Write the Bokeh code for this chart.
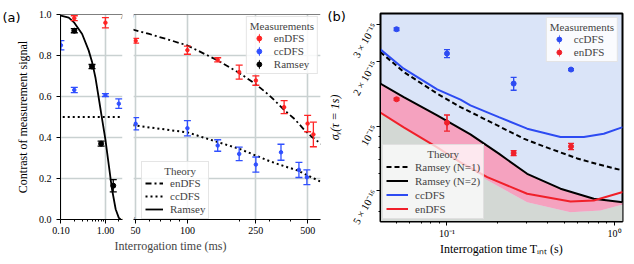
import math
from bokeh.plotting import figure
from bokeh.layouts import row, column
from bokeh.models import (Range1d, FixedTicker, PrintfTickFormatter, Legend,
                          LegendItem, Span, Label, Grid)
from bokeh.embed import file_html
from bokeh.resources import INLINE

SERIF = "Liberation Serif"
SANS = "DejaVu Sans"
RED = "#ff2424"
BLUE = "#3050ff"
BRED = "#f0202a"
BBLUE = "#2d4bf2"
GRID = "#c9d1d1"

# ---------------- panel (a) data ----------------
# theory curves, short interrogation times
ramsey_th_t = [0.1, 0.15, 0.2, 0.3, 0.42, 0.5, 0.6, 0.7, 0.8, 1.0, 1.2, 1.4, 1.7, 2.0, 2.2]
ramsey_th_c = [0.995, 0.985, 0.96, 0.905, 0.825, 0.77, 0.69, 0.6, 0.52, 0.39, 0.26, 0.15, 0.05, 0.008, 0.0]
ccdfs_th_short_t = [0.11, 2.2]
ccdfs_th_short_c = [0.5, 0.5]

# measurements, short interrogation times
en_short_t = [0.2, 1.0]
en_short_c = [0.982, 0.96]
en_short_e = [0.012, 0.025]
cc_short_t = [0.1, 0.2, 1.0, 2.0]
cc_short_c = [0.85, 0.632, 0.607, 0.565]
cc_short_e = [0.023, 0.013, 0.007, 0.023]
ram_short_t = [0.2, 0.5, 0.8, 1.5]
ram_short_c = [0.921, 0.746, 0.37, 0.165]
ram_short_e = [0.01, 0.01, 0.012, 0.03]

# theory curves, long interrogation times (ms)
endfs_th_t = [48, 60, 80, 100, 150, 200, 250, 300, 365, 420, 475, 525, 600]
endfs_th_c = [0.927, 0.905, 0.874, 0.849, 0.776, 0.715, 0.66, 0.605, 0.535, 0.49, 0.44, 0.405, 0.368]
ccdfs_th_t = [48, 100, 150, 200, 250, 300, 350, 435, 500, 600]
ccdfs_th_c = [0.46, 0.425, 0.378, 0.345, 0.312, 0.285, 0.265, 0.24, 0.215, 0.183]

# measurements, long interrogation times (ms)
en_long_t = [50, 100, 150, 200, 250, 365, 500, 540]
en_long_c = [0.872, 0.826, 0.779, 0.719, 0.678, 0.548, 0.468, 0.415]
en_long_e = [0.012, 0.02, 0.01, 0.034, 0.023, 0.032, 0.04, 0.06]
cc_long_t = [50, 100, 150, 200, 250, 350, 445, 495]
cc_long_c = [0.467, 0.445, 0.361, 0.32, 0.268, 0.328, 0.242, 0.206]
cc_long_e = [0.03, 0.037, 0.028, 0.033, 0.037, 0.039, 0.037, 0.036]

a_y_ticks = [0.0, 0.2, 0.4, 0.6, 0.8, 1.0]
a_short_ticks = [0.1, 1.0]
a_short_minor = [0.2, 0.3, 0.4, 0.5, 0.6, 0.7, 0.8, 0.9, 2.0]
a_long_ticks = [50, 100, 250, 500]
a_long_minor = [60, 70, 80, 90, 200, 300, 400]

# ---------------- panel (b) data (sigma in units of 1e-15) ----------------
ccdfs_b_t = [0.04, 0.0552, 0.0874, 0.1204, 0.138, 0.204, 0.301, 0.476, 0.656, 0.863, 1.12]
ccdfs_b_s = [2.29, 1.86, 1.49, 1.334, 1.254, 1.105, 0.975, 0.891, 0.891, 0.924, 0.992]
ram1_b_t = [0.04, 0.0552, 0.0874, 0.1204, 0.19, 0.287, 0.378, 0.599, 0.8, 1.12]
ram1_b_s = [2.228, 1.796, 1.423, 1.231, 1.03, 0.876, 0.806, 0.708, 0.664, 0.622]
ram2_b_t = [0.04, 0.0552, 0.0874, 0.138, 0.204, 0.301, 0.476, 0.752, 1.12]
ram2_b_s = [1.585, 1.371, 1.126, 0.917, 0.745, 0.60, 0.511, 0.459, 0.442]
endfs_b_t = [0.04, 0.0552, 0.0874, 0.1204, 0.174, 0.301, 0.546, 0.752, 1.12]
endfs_b_s = [1.159, 0.989, 0.797, 0.678, 0.579, 0.484, 0.445, 0.45, 0.493]
lower_b_t = [0.04, 0.0874, 0.174, 0.301, 0.546, 0.825, 1.12]
lower_b_s = [1.159, 0.797, 0.559, 0.442, 0.397, 0.404, 0.431]

cc_b_t = [0.05, 0.1, 0.25, 0.55]
cc_b_s = [2.845, 2.19, 1.585, 1.843]
cc_b_e = [0.04, 0.095, 0.11, 0.02]
en_b_t = [0.05, 0.1, 0.25, 0.55]
en_b_s = [1.338, 1.04, 0.75, 0.806]
en_b_e = [0.015, 0.09, 0.02, 0.027]

b_y_ticks = [5e-16, 1e-15, 2e-15, 3e-15]
b_y_minor = [4e-16, 6e-16, 7e-16, 8e-16, 9e-16]
b_y_labels = {5e-16: "5 × 10⁻¹⁶", 1e-15: "10⁻¹⁵", 2e-15: "2 × 10⁻¹⁵", 3e-15: "3 × 10⁻¹⁵"}
b_x_ticks = [0.1, 1.0]
b_x_minor = [0.05, 0.06, 0.07, 0.08, 0.09, 0.2, 0.3, 0.4, 0.5, 0.6, 0.7, 0.8, 0.9]
b_x_labels = {0.1: "10⁻¹", 1.0: "10⁰"}

UNIT = 1e-15
def sc(v):
    return [x * UNIT for x in v]

A_SHORT = (0.098, 2.42)
A_LONG = (48.6, 594.0)
B_X = (0.0401, 1.116)
B_Y = (0.359e-15, 3.37e-15)


def style_axis(ax, size="10px"):
    ax.axis_line_color = "black"
    ax.axis_line_width = 1
    ax.major_tick_line_color = "black"
    ax.minor_tick_line_color = "black"
    ax.major_tick_in = 0
    ax.major_tick_out = 4
    ax.minor_tick_in = 0
    ax.minor_tick_out = 2
    ax.major_label_text_font = SERIF
    ax.major_label_text_font_size = size
    ax.major_label_text_color = "black"
    ax.axis_label_text_font = SERIF
    ax.axis_label_text_font_style = "normal"
    ax.axis_label_text_color = "black"


def errorbars(p, xs, ys, es, color, cap, lw=1.3, dot=3.5):
    lo = [y - e for y, e in zip(ys, es)]
    hi = [y + e for y, e in zip(ys, es)]
    p.segment(x0=xs, y0=lo, x1=xs, y1=hi, line_color=color, line_width=lw)
    p.scatter(x=list(xs) + list(xs), y=lo + hi, marker="dash", size=cap,
              line_color=color, line_width=lw)
    return p.scatter(x=xs, y=ys, marker="circle", size=dot, fill_color=color,
                     line_color=color)


def style_legend(lg, fs, gw, gh, standoff, pad, spacing):
    lg.label_text_font = SERIF
    lg.label_text_font_size = fs
    lg.title_text_font = SERIF
    lg.title_text_font_size = fs
    lg.title_text_font_style = "normal"
    lg.title_standoff = 0
    lg.glyph_width = gw
    lg.glyph_height = gh
    lg.label_height = gh
    lg.label_standoff = standoff
    lg.padding = pad
    lg.spacing = spacing
    lg.border_line_color = "#cccccc"
    lg.border_line_width = 1
    lg.background_fill_color = "white"
    lg.background_fill_alpha = 0.85


def panel_tag(p, text, offset):
    p.title.text = text
    p.title.align = "left"
    p.title.offset = offset
    p.title.standoff = -20
    p.title.vertical_align = "bottom"
    p.title.text_font = SANS
    p.title.text_font_size = "13px"
    p.title.text_font_style = "normal"
    p.title.text_color = "black"


# ================= panel (a), short times =================
a1 = figure(width=127, height=240, x_axis_type="log",
            x_range=Range1d(*A_SHORT), y_range=Range1d(0, 1),
            output_backend="svg", toolbar_location=None,
            min_border_left=60, min_border_right=5, min_border_top=14,
            min_border_bottom=21)
a1.outline_line_color = None
style_axis(a1.xaxis[0])
style_axis(a1.yaxis[0])
a1.xaxis.ticker = FixedTicker(ticks=a_short_ticks, minor_ticks=a_short_minor)
a1.xaxis.formatter = PrintfTickFormatter(format="%.2f")
a1.xaxis.major_label_standoff = 3
a1.yaxis.ticker = FixedTicker(ticks=a_y_ticks, minor_ticks=[])
a1.yaxis.formatter = PrintfTickFormatter(format="%.1f")
a1.yaxis.axis_label = "Contrast of measurement signal"
a1.yaxis.axis_label_text_font_size = "12px"
a1.yaxis.axis_label_standoff = 6
a1.grid.grid_line_color = GRID
a1.grid.grid_line_width = 1.6
a1.add_layout(Span(location=1.0, dimension="width", line_color="black", line_width=1))
panel_tag(a1, "(a)", -58)

a1.line(ccdfs_th_short_t, ccdfs_th_short_c, line_color="black", line_width=2,
        line_dash="2 3")
a1.line(ramsey_th_t, ramsey_th_c, line_color="black", line_width=1.8)
errorbars(a1, en_short_t, en_short_c, en_short_e, RED, 7)
errorbars(a1, cc_short_t, cc_short_c, cc_short_e, BLUE, 7)
errorbars(a1, ram_short_t, ram_short_c, ram_short_e, "black", 7, dot=5)

for yy in (0.0, 1.0):
    a1.add_layout(Label(x=A_SHORT[1], y=yy, text="/", text_font=SERIF,
                        text_font_size="11px", text_align="center",
                        text_baseline="middle"))

# ================= panel (a), long times =================
a2 = figure(width=195, height=240, x_axis_type="log",
            x_range=Range1d(*A_LONG), y_range=Range1d(0, 1),
            y_axis_location=None,
            output_backend="svg", toolbar_location=None,
            min_border_left=6, min_border_right=2, min_border_top=14,
            min_border_bottom=21)
a2.outline_line_color = None
style_axis(a2.xaxis[0])
a2.xaxis.ticker = FixedTicker(ticks=a_long_ticks, minor_ticks=a_long_minor)
a2.xaxis.formatter = PrintfTickFormatter(format="%d")
a2.xaxis.major_label_standoff = 3
a2.xgrid.grid_line_color = GRID
a2.xgrid.grid_line_width = 1.6
a2.add_layout(Grid(dimension=1, ticker=FixedTicker(ticks=a_y_ticks),
                   grid_line_color=GRID, grid_line_width=1.6))
a2.add_layout(Span(location=1.0, dimension="width", line_color="black", line_width=1))

th_en = a2.line(endfs_th_t, endfs_th_c, line_color="black", line_width=1.8,
                line_dash="6 3 2 3")
th_cc = a2.line(ccdfs_th_t, ccdfs_th_c, line_color="black", line_width=2,
                line_dash="2 3")
th_ram = a2.line(ramsey_th_t, ramsey_th_c, line_color="black", line_width=1.8)
d_en = errorbars(a2, en_long_t, en_long_c, en_long_e, RED, 7)
d_cc = errorbars(a2, cc_long_t, cc_long_c, cc_long_e, BLUE, 7)
d_ram = a2.scatter(ram_short_t, ram_short_c, marker="circle", size=5, color="black")
# short-time series (outside this axis range) give the legend its error-bar glyph
e_en = a2.ellipse(x=en_short_t, y=en_short_c, width=1.5, height=11,
                  width_units="screen", height_units="screen",
                  fill_color=RED, line_color=None)
e_cc = a2.ellipse(x=cc_short_t, y=cc_short_c, width=1.5, height=11,
                  width_units="screen", height_units="screen",
                  fill_color=BLUE, line_color=None)
e_ram = a2.ellipse(x=ram_short_t, y=ram_short_c, width=1.5, height=11,
                   width_units="screen", height_units="screen",
                   fill_color="black", line_color=None)

for yy in (0.0, 1.0):
    a2.add_layout(Label(x=A_LONG[0], y=yy, text="/", text_font=SERIF,
                        text_font_size="11px", text_align="center",
                        text_baseline="middle"))

leg_ma = Legend(items=[LegendItem(label="enDFS", renderers=[e_en, d_en]),
                       LegendItem(label="ccDFS", renderers=[e_cc, d_cc]),
                       LegendItem(label="Ramsey", renderers=[e_ram, d_ram])],
                title="Measurements", location="top_right", margin=2)
style_legend(leg_ma, "11px", 18, 12, 6, 3, 1)
a2.add_layout(leg_ma)
leg_ta = Legend(items=[LegendItem(label="enDFS", renderers=[th_en]),
                       LegendItem(label="ccDFS", renderers=[th_cc]),
                       LegendItem(label="Ramsey", renderers=[th_ram])],
                title="\u00a0\u00a0\u00a0\u00a0\u00a0\u00a0\u00a0Theory",
                location=(8, 0), margin=0)
style_legend(leg_ta, "11px", 18, 12, 7, 3, 1)
a2.add_layout(leg_ta)

# ================= x label for panel (a) =================
lab = figure(width=322, height=24, x_range=Range1d(0, 322), y_range=Range1d(0, 24),
             x_axis_location=None, y_axis_location=None, min_border=0,
             output_backend="svg", toolbar_location=None)
lab.outline_line_color = None
lab.grid.visible = False
lab.add_layout(Label(x=170, y=19, text="Interrogation time (ms)", text_font=SERIF,
                     text_font_size="12px", text_align="center",
                     text_baseline="middle"))

# ================= panel (b) =================
b = figure(width=312, height=264, x_axis_type="log", y_axis_type="log",
           x_range=Range1d(*B_X), y_range=Range1d(*B_Y),
           output_backend="svg", toolbar_location=None,
           min_border_left=58, min_border_right=12, min_border_top=13,
           min_border_bottom=43)
b.outline_line_color = "black"
b.outline_line_width = 2
b.background_fill_color = "#dae4f8"
b.grid.visible = False
style_axis(b.xaxis[0])
style_axis(b.yaxis[0], size="10.5px")
b.xaxis.ticker = FixedTicker(ticks=b_x_ticks, minor_ticks=b_x_minor)
b.xaxis.major_label_overrides = b_x_labels
b.xaxis.major_label_standoff = 2
b.xaxis.axis_label = "Interrogation time Tᵢₙₜ (s)"
b.xaxis.axis_label_text_font_size = "12px"
b.xaxis.axis_label_standoff = 0
b.yaxis.ticker = FixedTicker(ticks=b_y_ticks, minor_ticks=b_y_minor)
b.yaxis.major_label_overrides = b_y_labels
b.yaxis.major_label_orientation = math.radians(60)
b.yaxis.major_label_standoff = 2
b.yaxis.axis_label = "σᵧ(τ = 1s)"
b.yaxis.axis_label_text_font_size = "12px"
b.yaxis.axis_label_text_font_style = "italic"
b.yaxis.axis_label_standoff = 1
panel_tag(b, "(b)", -53)

# gray region below the lower bound, pink band up to Ramsey (N=2)
b.patch(lower_b_t + [lower_b_t[-1], lower_b_t[0]],
        sc(lower_b_s) + [B_Y[0], B_Y[0]],
        fill_color="#d3d8d4", line_color=None)
b.patch(ram2_b_t + lower_b_t[::-1], sc(ram2_b_s) + sc(lower_b_s)[::-1],
        fill_color="#f5a2bf", line_color=None)

l_r1 = b.line(ram1_b_t, sc(ram1_b_s), line_color="black", line_width=2, line_dash="5 3")
l_r2 = b.line(ram2_b_t, sc(ram2_b_s), line_color="black", line_width=2)
l_cc = b.line(ccdfs_b_t, sc(ccdfs_b_s), line_color=BBLUE, line_width=2)
l_en = b.line(endfs_b_t, sc(endfs_b_s), line_color=BRED, line_width=2)

# error-bar shaped ellipses (hidden under the bars) give the legend its glyph
eb_cc = b.ellipse(x=cc_b_t, y=sc(cc_b_s), width=1.2, height=[2 * e for e in sc(cc_b_e)],
                  width_units="screen", height_units="data",
                  fill_color=BBLUE, line_color=None)
eb_en = b.ellipse(x=en_b_t, y=sc(en_b_s), width=1.2, height=[2 * e for e in sc(en_b_e)],
                  width_units="screen", height_units="data",
                  fill_color=BRED, line_color=None)
p_cc = errorbars(b, cc_b_t, sc(cc_b_s), sc(cc_b_e), BBLUE, 6, dot=5)
p_en = errorbars(b, en_b_t, sc(en_b_s), sc(en_b_e), BRED, 6, dot=5)

leg_mb = Legend(items=[LegendItem(label="ccDFS", renderers=[eb_cc, p_cc], index=2),
                       LegendItem(label="enDFS", renderers=[eb_en, p_en], index=1)],
                title="Measurements", location="top_right", margin=4)
style_legend(leg_mb, "11px", 18, 12, 6, 3, 1)
b.add_layout(leg_mb)
leg_tb = Legend(items=[LegendItem(label="Ramsey (N=1)", renderers=[l_r1]),
                       LegendItem(label="Ramsey (N=2)", renderers=[l_r2]),
                       LegendItem(label="ccDFS", renderers=[l_cc]),
                       LegendItem(label="enDFS", renderers=[l_en])],
                title="\u00a0\u00a0\u00a0\u00a0\u00a0\u00a0\u00a0\u00a0\u00a0\u00a0\u00a0\u00a0\u00a0\u00a0\u00a0Theory",
                location="bottom_left", margin=2)
style_legend(leg_tb, "11px", 22, 13, 7, 3, 1)
leg_tb.background_fill_alpha = 0.75
b.add_layout(leg_tb)

layout = row(column(row(a1, a2), lab), b)
open("out.html", "w").write(file_html(layout, INLINE))
